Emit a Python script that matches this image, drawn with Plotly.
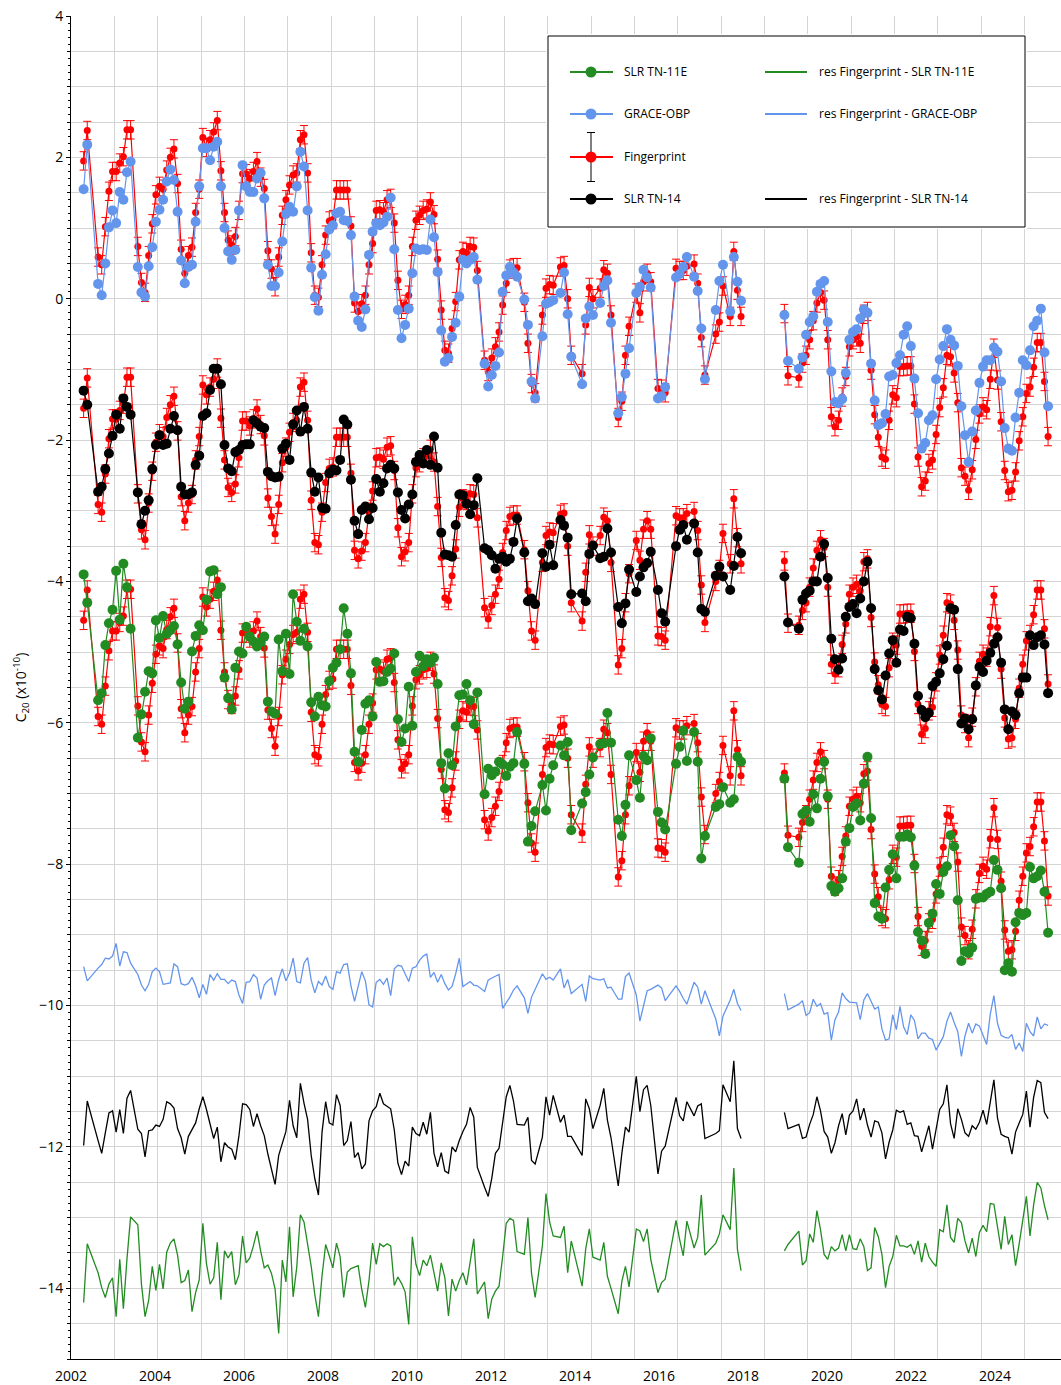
import plotly.graph_objects as go

# ------------------------------------------------------------------ data
# monthly sampling, two mission segments, months without a solution
SEGMENTS = [((2002, 4), (2017, 6)), ((2018, 6), (2024, 7))]
MISSING_MONTHS = ["2002-06", "2002-07", "2003-06", "2011-06", "2012-05", "2012-10",
                  "2013-03", "2013-08", "2013-09", "2014-02", "2014-07", "2014-12",
                  "2015-06", "2015-10", "2015-11", "2016-04", "2016-09", "2016-10",
                  "2017-02", "2018-08", "2018-09"]

# C20 anomalies (x1e-10)
fingerprint = [
    1.95, 2.38, 0.59, 0.48, 1.02, 1.52, 1.80,                                  # 2002
    1.80, 1.92, 2.01, 2.39, 2.39, 0.74, 0.23, 0.09, 0.61, 1.06, 1.47,          # 2003
    1.59, 1.55, 1.82, 2.00, 2.12, 1.63, 0.70, 0.36, 0.61, 0.73, 1.22, 1.55,    # 2004
    2.28, 2.14, 2.25, 2.36, 2.52, 1.81, 1.22, 0.83, 0.76, 0.88, 1.25, 1.77,    # 2005
    1.77, 1.70, 1.80, 1.94, 1.72, 1.56, 0.68, 0.42, 0.17, 0.59, 1.18, 1.40,    # 2006
    1.61, 1.75, 1.78, 2.25, 2.32, 1.78, 0.65, 0.05, 0.02, 0.48, 0.90, 1.10,    # 2007
    1.12, 1.54, 1.54, 1.54, 1.54, 1.03, -0.06, -0.18, -0.07, 0.05, 0.48, 0.78,  # 2008
    1.25, 1.26, 1.23, 1.40, 1.42, 1.07, 0.26, -0.15, -0.08, 0.05, 0.74, 1.11,  # 2009
    1.18, 1.25, 1.27, 1.37, 1.19, 0.56, -0.16, -0.73, -0.77, -0.42, -0.04, 0.55,  # 2010
    0.67, 0.65, 0.74, 0.73, 0.40, -0.87, -1.03, -0.84, -0.68, -0.47, -0.09,    # 2011
    0.22, 0.42, 0.44, 0.44, -0.05, -0.63, -1.20, -1.33, -0.23, 0.15,          # 2012
    0.20, 0.19, 0.45, 0.47, 0.00, -0.80, -1.06, -0.37, 0.16,                  # 2013
    0.00, 0.15, 0.41, 0.36, -0.23, -1.68, -1.45, -0.80, -0.39,                # 2014
    0.08, -0.20, 0.24, 0.36, 0.24, -1.27, -1.28, -1.33, 0.43,                 # 2015
    0.40, 0.40, 0.46, 0.49, 0.22, -0.55, -1.08, -0.50, -0.33,                 # 2016
    0.18, -0.25, 0.67, 0.12, -0.25,                                            # 2017
    -0.21, -1.09, -1.12, -0.91, -0.80,                                         # 2018
    -0.58, -0.31, -0.06, 0.09, -0.02, -0.58, -1.67, -1.81, -1.72, -1.39, -1.10, -0.68,  # 2019
    -0.58, -0.54, -0.63, -0.22, -0.18, -1.01, -1.64, -1.96, -2.24, -2.27, -1.72, -1.36,  # 2020
    -1.40, -0.96, -0.96, -0.95, -0.95, -1.49, -2.24, -2.66, -2.58, -2.33, -2.28, -1.92,  # 2021
    -1.54, -1.26, -0.80, -0.82, -1.05, -1.47, -2.39, -2.51, -2.71, -2.42, -1.99, -1.63,  # 2022
    -1.53, -1.57, -1.14, -0.70, -1.15, -1.74, -2.43, -2.73, -2.71, -2.45, -2.01, -1.67,  # 2023
    -1.34, -1.25, -0.97, -0.62, -0.62, -1.17, -1.95,                           # 2024
]
FINGERPRINT_ERROR = 0.13

grace_obp = [
    1.55, 2.18, 0.21, 0.05, 0.50, 1.01, 1.25,
    1.07, 1.51, 1.40, 1.79, 1.94, 0.45, 0.09, 0.03, 0.46, 0.73, 1.09,
    1.26, 1.40, 1.66, 1.83, 1.68, 1.23, 0.54, 0.22, 0.45, 0.48, 1.09, 1.59,
    2.13, 2.13, 1.96, 2.15, 2.22, 1.59, 1.00, 0.67, 0.55, 0.69, 1.25, 1.89,
    1.59, 1.51, 1.51, 1.70, 1.78, 1.42, 0.48, 0.18, 0.18, 0.37, 0.81, 1.20,
    1.30, 1.23, 1.59, 2.08, 1.87, 1.25, 0.44, 0.02, -0.17, 0.34, 0.63, 0.98,
    1.04, 1.21, 1.23, 1.11, 1.10, 0.90, 0.03, -0.31, -0.40, -0.15, 0.62, 0.95,
    1.07, 1.04, 1.08, 1.16, 1.43, 0.70, -0.16, -0.56, -0.37, -0.14, 0.36, 0.71,
    0.69, 0.70, 0.69, 1.12, 0.87, 0.38, -0.45, -0.89, -0.84, -0.54, -0.34, 0.03,
    0.55, 0.50, 0.55, 0.59, 0.27, -0.92, -1.24, -1.08, -0.95, -0.76, 0.10,
    0.33, 0.45, 0.37, 0.31, -0.01, -0.37, -1.17, -1.41, -0.53, -0.07,
    -0.05, -0.02, 0.08, 0.37, -0.22, -0.82, -1.21, -0.28, -0.11,
    -0.23, -0.06, 0.18, 0.26, -0.34, -1.62, -1.39, -1.06, -0.70,
    0.08, 0.17, 0.41, 0.30, 0.16, -1.41, -1.38, -1.25, 0.30,
    0.35, 0.45, 0.59, 0.31, 0.11, -0.42, -1.14, -0.16, 0.25,
    0.48, -0.18, 0.59, 0.24, -0.03,
    -0.23, -0.88, -0.99, -0.83, -0.51,
    -0.33, -0.25, 0.10, 0.21, 0.25, -0.33, -1.03, -1.46, -1.48, -1.42, -1.05, -0.58,
    -0.47, -0.43, -0.28, -0.15, -0.20, -0.92, -1.44, -1.79, -1.76, -1.63, -1.10, -1.08,
    -0.91, -0.80, -0.51, -0.39, -0.67, -1.13, -1.62, -2.12, -2.04, -1.72, -1.65, -1.14,
    -0.86, -0.67, -0.43, -0.58, -0.66, -0.95, -1.52, -1.93, -2.31, -1.88, -1.58, -1.19,
    -0.96, -0.87, -0.87, -0.69, -0.75, -1.17, -1.83, -2.12, -2.15, -1.68, -1.33, -0.87,
    -0.94, -0.73, -0.39, -0.31, -0.14, -0.76, -1.52,
]

slr_tn14 = [
    2.20, 2.00, 0.77, 0.84, 1.09, 1.31, 1.56,
    1.86, 1.66, 2.09, 1.97, 1.86, 0.76, 0.31, 0.50, 0.65, 1.09, 1.43,
    1.57, 1.43, 1.45, 1.66, 1.84, 1.64, 0.84, 0.73, 0.73, 0.76, 1.15, 1.28,
    1.84, 1.88, 2.21, 2.51, 2.51, 2.29, 1.43, 1.10, 1.06, 1.33, 1.36, 1.43,
    1.44, 1.44, 1.78, 1.74, 1.69, 1.67, 1.05, 0.99, 0.97, 0.98, 1.38, 1.45,
    1.22, 1.72, 1.92, 1.62, 1.97, 1.66, 1.04, 0.77, 0.97, 0.54, 0.53, 1.03,
    1.08, 1.07, 1.22, 1.79, 1.72, 0.94, 0.36, 0.17, 0.51, 0.56, 0.38, 0.54,
    0.95, 0.77, 0.89, 1.10, 1.15, 1.10, 0.76, 0.51, 0.39, 0.59, 0.73, 1.19,
    1.29, 1.17, 1.36, 1.15, 1.55, 1.11, 0.19, -0.12, -0.13, -0.15, 0.30, 0.73,
    0.72, 0.60, 0.45, 0.58, 0.96, -0.03, -0.06, -0.13, -0.32, -0.18, -0.15,
    -0.22, -0.18, 0.06, 0.39, -0.09, -0.78, -0.74, -0.82, -0.10, -0.29,
    0.02, -0.27, 0.37, 0.29, 0.12, -0.68, -0.67, -0.78, -0.11,
    0.01, -0.17, -0.15, 0.25, -0.09, -0.86, -1.09, -0.81, -0.33,
    -0.65, -0.43, -0.30, -0.24, -0.08, -0.62, -0.95, -1.07, 0.00,
    0.23, 0.30, 0.09, 0.32, -0.09, -0.89, -0.93, -0.42, -0.29,
    -0.43, -0.62, -0.28, 0.13, -0.10,
    -0.43, -1.08, -1.17, -0.76, -0.67,
    -0.63, -0.50, -0.50, -0.15, 0.03, -0.45, -1.31, -1.60, -1.75, -1.59, -1.00, -0.86,
    -0.82, -0.95, -0.74, -0.50, -0.22, -0.88, -1.74, -2.04, -2.17, -1.83, -1.52, -1.33,
    -1.65, -1.18, -1.20, -1.00, -1.02, -1.38, -2.12, -2.32, -2.42, -2.36, -1.98, -1.92,
    -1.80, -1.60, -1.41, -0.88, -0.90, -1.74, -2.51, -2.44, -2.59, -2.45, -1.97, -1.71,
    -1.78, -1.62, -1.51, -1.38, -1.29, -1.65, -2.31, -2.59, -2.34, -2.39, -2.08, -1.86,
    -1.86, -1.26, -1.40, -1.29, -1.26, -1.39, -2.08,
]

slr_tn11e = [
    2.60, 2.20, 0.82, 0.92, 1.60, 1.91, 2.10,
    2.65, 1.96, 2.75, 2.42, 1.83, 0.29, 0.62, 0.94, 1.23, 1.20, 1.95,
    1.70, 2.01, 1.76, 1.81, 1.87, 1.61, 1.07, 0.70, 0.80, 1.51, 1.73, 1.88,
    1.81, 2.24, 2.64, 2.66, 2.32, 2.42, 1.14, 0.85, 0.69, 1.28, 1.51, 1.48,
    1.86, 1.72, 1.65, 1.58, 1.64, 1.72, 0.80, 0.66, 0.63, 1.68, 1.23, 1.76,
    1.19, 2.32, 1.93, 1.66, 1.83, 1.58, 0.79, 0.59, 0.87, 0.75, 0.73, 1.09,
    1.28, 1.35, 1.54, 2.12, 1.76, 1.20, 0.09, -0.05, 0.40, 0.77, 0.82, 0.59,
    1.36, 1.08, 1.09, 1.22, 1.27, 1.48, 0.55, 0.23, 0.42, 1.01, 0.46, 1.22,
    1.45, 1.30, 1.40, 1.35, 1.42, 1.05, -0.07, -0.43, 0.07, -0.10, 0.45, 0.89,
    0.90, 1.05, 0.82, 0.48, 0.93, -0.51, -0.15, -0.24, -0.19, -0.05, -0.09,
    -0.25, -0.12, -0.07, 0.37, -0.08, -1.18, -0.96, -0.75, -0.38, -0.74,
    -0.29, -0.10, 0.18, 0.04, 0.23, -1.02, -0.64, -0.48, -0.23,
    0.01, 0.20, 0.21, 0.64, 0.22, -0.87, -1.10, -0.66, 0.04,
    -0.31, -0.56, 0.03, -0.03, 0.28, -0.76, -0.91, -1.01, -0.08,
    0.16, 0.39, -0.04, 0.37, -0.05, -1.42, -1.10, -0.69, -0.65,
    -0.41, -0.63, -0.58, 0.02, -0.05,
    -0.29, -1.26, -1.48, -0.79, -0.74,
    -0.90, -0.51, -0.71, -0.29, -0.05, -0.54, -1.81, -1.89, -1.84, -1.70, -1.18, -0.99,
    -0.69, -0.64, -0.88, -0.36, 0.02, -0.85, -2.05, -2.24, -2.27, -1.83, -1.58, -1.36,
    -1.70, -1.11, -1.11, -1.08, -1.12, -1.52, -2.46, -2.58, -2.77, -2.33, -2.20, -1.78,
    -1.92, -1.61, -1.53, -1.09, -1.25, -2.01, -2.87, -2.73, -2.76, -2.68, -1.99, -1.97,
    -1.97, -1.92, -1.89, -1.44, -1.58, -1.84, -3.00, -2.90, -3.02, -2.32, -2.19, -2.22,
    -2.19, -1.54, -1.70, -1.67, -1.59, -1.89, -2.47,
]

x_tick_labels = ["2002", "2004", "2006", "2008", "2010", "2012",
                 "2014", "2016", "2018", "2020", "2022", "2024"]
y_tick_values = [-14, -12, -10, -8, -6, -4, -2, 0, 2, 4]
y_tick_labels = ["\u221214", "\u221212", "\u221210", "\u22128", "\u22126",
                 "\u22124", "\u22122", "0", "2", "4"]

# ------------------------------------------------------------------ styling
W, H = 1061, 1385
ML, MR, MT, MB = 71, 0, 16, 26
PLOT_W, PLOT_H = W - ML - MR, H - MT - MB
X_RANGE = [2002.0, 2024.84]
Y_RANGE = [-15.0, 4.0]
PX_PER_YEAR = PLOT_W / (X_RANGE[1] - X_RANGE[0])
LABEL_STEP_PX = 84.0          # spacing of the printed year labels

GREEN, BLUE, RED, BLACK = "#228B22", "#6495ED", "#FF0000", "#000000"
GRID = "#d4d4d4"
FONT = "Open Sans"

GROUP_SHIFT = {"tn11e": -6.5, "grace": 0.0, "tn14": -3.5}
RES_SHIFT = {"tn11e": -13.55, "grace": -9.85, "tn14": -11.73}


def month_times():
    seg_times = []
    for (y0, m0), (y1, m1) in SEGMENTS:
        y, m, seg = y0, m0, []
        while (y, m) <= (y1, m1):
            if f"{y}-{m:02d}" not in MISSING_MONTHS:
                seg.append(y + (m - 0.5) / 12.0)
            m += 1
            if m > 12:
                y, m = y + 1, 1
        seg_times.append(seg)
    return seg_times


seg_t = month_times()
n1 = len(seg_t[0])
times = seg_t[0] + [None] + seg_t[1]


def broken(vals, shift=0.0):
    v = [a + shift for a in vals]
    return v[:n1] + [None] + v[n1:]


series = {"tn11e": slr_tn11e, "grace": grace_obp, "tn14": slr_tn14}
colors = {"tn11e": GREEN, "grace": BLUE, "tn14": BLACK}

fig = go.Figure()

# residual lines
for key in ["tn11e", "tn14", "grace"]:
    res = [f - s for f, s in zip(fingerprint, series[key])]
    fig.add_trace(go.Scatter(x=times, y=broken(res, RES_SHIFT[key]), mode="lines",
                             line=dict(color=colors[key], width=1.3),
                             showlegend=False, hoverinfo="skip"))

# fingerprint copies + series
for key in ["tn11e", "tn14", "grace"]:
    fig.add_trace(go.Scatter(
        x=times, y=broken(fingerprint, GROUP_SHIFT[key]), mode="lines+markers",
        line=dict(color=RED, width=1.2), marker=dict(size=7, color=RED),
        error_y=dict(type="constant", value=FINGERPRINT_ERROR, color=RED,
                     thickness=1, width=4),
        showlegend=False, hoverinfo="skip"))
    fig.add_trace(go.Scatter(
        x=times, y=broken(series[key], GROUP_SHIFT[key]), mode="lines+markers",
        line=dict(color=colors[key], width=1.2),
        marker=dict(size=10, color=colors[key]),
        showlegend=False, hoverinfo="skip"))

# ------------------------------------------------------------------ legend box (own small axes, 1 unit = 1 px)
BOX_L, BOX_T, BOX_W, BOX_H = 548, 36, 477, 191
PAD = 2
dx0 = (BOX_L - PAD - ML) / PLOT_W
dx1 = (BOX_L + BOX_W + PAD - ML) / PLOT_W
dy1 = 1 - (BOX_T - PAD - MT) / PLOT_H
dy0 = 1 - (BOX_T + BOX_H + PAD - MT) / PLOT_H

fig.add_trace(go.Scatter(x=[0, BOX_W, BOX_W, 0, 0], y=[0, 0, BOX_H, BOX_H, 0],
                         mode="lines", fill="toself", fillcolor="white",
                         line=dict(color="black", width=1),
                         xaxis="x2", yaxis="y2", showlegend=False, hoverinfo="skip"))

rows = [36, 78, 121, 163]
left_items = [("SLR TN-11E", GREEN, rows[0]), ("GRACE-OBP", BLUE, rows[1]),
              ("Fingerprint", RED, rows[2]), ("SLR TN-14", BLACK, rows[3])]
right_items = [("res Fingerprint - SLR TN-11E", GREEN, rows[0]),
               ("res Fingerprint - GRACE-OBP", BLUE, rows[1]),
               ("res Fingerprint - SLR TN-14", BLACK, rows[3])]
annotations = []
for name, col, ry in left_items:
    fig.add_trace(go.Scatter(x=[22, 65], y=[ry, ry], mode="lines",
                             line=dict(color=col, width=2), xaxis="x2", yaxis="y2",
                             showlegend=False, hoverinfo="skip"))
    kw = {}
    if name == "Fingerprint":
        kw["error_y"] = dict(type="constant", value=24.5, color="black",
                             thickness=1, width=4)
    fig.add_trace(go.Scatter(x=[43], y=[ry], mode="markers",
                             marker=dict(size=11, color=col), xaxis="x2", yaxis="y2",
                             showlegend=False, hoverinfo="skip", **kw))
    annotations.append(dict(x=74, y=ry, xref="x2", yref="y2", text=name,
                            showarrow=False, xanchor="left", yanchor="middle",
                            font=dict(family=FONT, size=12, color="black")))
for name, col, ry in right_items:
    fig.add_trace(go.Scatter(x=[217, 259], y=[ry, ry], mode="lines",
                             line=dict(color=col, width=2), xaxis="x2", yaxis="y2",
                             showlegend=False, hoverinfo="skip"))
    annotations.append(dict(x=269, y=ry, xref="x2", yref="y2", text=name,
                            showarrow=False, xanchor="left", yanchor="middle",
                            font=dict(family=FONT, size=12, color="black")))

# ------------------------------------------------------------------ axes
x_tick_vals = [X_RANGE[0] + i * LABEL_STEP_PX / PX_PER_YEAR
               for i in range(len(x_tick_labels))]

fig.update_layout(
    width=W, height=H,
    margin=dict(l=ML, r=MR, t=MT, b=MB),
    paper_bgcolor="white", plot_bgcolor="white",
    font=dict(family=FONT, color="black"),
    showlegend=False,
    annotations=annotations,
    xaxis=dict(range=X_RANGE, domain=[0, 1], showgrid=False, zeroline=False,
               showline=True, linecolor="black", linewidth=1,
               tickmode="array", tickvals=x_tick_vals, ticktext=x_tick_labels,
               ticks="", ticklabelstandoff=4,
               tickfont=dict(family=FONT, size=14, color="black"),
               minor=dict(tick0=2002, dtick=1, showgrid=True, gridcolor=GRID,
                          gridwidth=1, ticks="")),
    yaxis=dict(range=Y_RANGE, showgrid=False, zeroline=False,
               showline=True, linecolor="black", linewidth=1,
               tickmode="array", tickvals=y_tick_values, ticktext=y_tick_labels,
               ticks="outside", ticklen=4, tickcolor="black",
               tickfont=dict(family=FONT, size=14, color="black"),
               minor=dict(tick0=0, dtick=0.5, showgrid=True, gridcolor=GRID,
                          gridwidth=1, ticks="outside", ticklen=3,
                          tickcolor="black"),
               title=dict(text="C<sub>20</sub> (x10<sup>-10</sup>)",
                          font=dict(family=FONT, size=14, color="black"),
                          standoff=9)),
    xaxis2=dict(domain=[dx0, dx1], range=[-PAD, BOX_W + PAD], anchor="y2",
                visible=False, fixedrange=True),
    yaxis2=dict(domain=[dy0, dy1], range=[BOX_H + PAD, -PAD], anchor="x2",
                visible=False, fixedrange=True),
)

# fine 0.1 tick marks on the value axis (no labels, no grid)
fig.update_layout(yaxis3=dict(overlaying="y", side="left", range=Y_RANGE,
                              anchor="x", showgrid=False, zeroline=False,
                              showline=False, tickmode="linear", tick0=0, dtick=0.1,
                              ticks="outside", ticklen=2, tickcolor="black",
                              showticklabels=False))
fig.add_trace(go.Scatter(x=[None], y=[None], yaxis="y3", showlegend=False,
                         hoverinfo="skip"))

fig.write_html("out.html")
